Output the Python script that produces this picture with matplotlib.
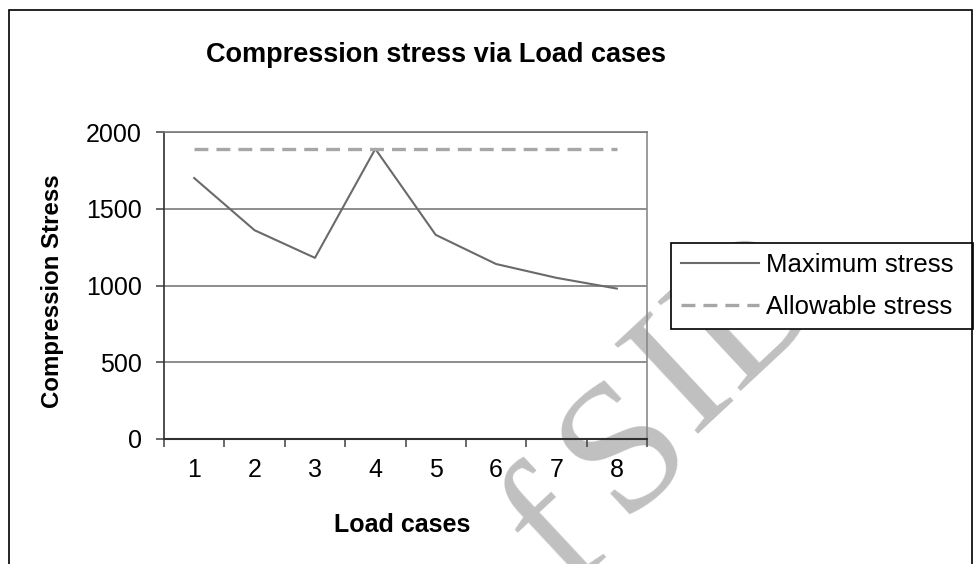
import numpy as np
import matplotlib
matplotlib.use("Agg")
import matplotlib.pyplot as plt
from matplotlib.patches import Rectangle

plt.rcParams['font.family'] = ['Liberation Sans', 'DejaVu Sans']
plt.rcParams['lines.scale_dashes'] = False

# ---- data ----
cases = [1, 2, 3, 4, 5, 6, 7, 8]
case_labels = ['1', '2', '3', '4', '5', '6', '7', '8']
max_stress = [1700, 1360, 1180, 1890, 1330, 1140, 1050, 980]
allowable_stress = [1890, 1890, 1890, 1890, 1890, 1890, 1890, 1890]
y_ticks = [0, 500, 1000, 1500, 2000]
watermark_letters = ['f', 'S', 'I', 'D']

W, H = 974, 564
fig = plt.figure(figsize=(W / 100, H / 100), dpi=100)

def fx(px):
    return px / W

def fy(py):
    return (H - py) / H

# watermark (behind everything), one letter at a time
wm_pos = [(557, 536), (627, 450), (683, 380), (754, 312)]
for ch, (px, py) in zip(watermark_letters, wm_pos):
    fig.text(fx(px), fy(py), ch, family=['Liberation Serif', 'DejaVu Serif'],
             fontsize=134, color='#c0c0c0', rotation=43,
             ha='center', va='center', zorder=0)

left, right, top, bottom = 164, 647, 132, 439
ax = fig.add_axes([fx(left), fy(bottom), fx(right - left), (bottom - top) / H])
ax.set_facecolor('none')
ax.set_zorder(1)

l1, = ax.plot(cases, max_stress, color='#6a6a6a', lw=1.5, zorder=3, label='Maximum stress')
l2, = ax.plot(cases, allowable_stress, color='#a6a6a6', lw=2.4, dashes=(10, 5.8), zorder=3,
              label='Allowable stress')

ax.set_xlim(0.5, 8.5)
ax.set_ylim(0, 2000)

ax.set_yticks(y_ticks)
ax.set_yticklabels([str(v) for v in y_ticks], fontsize=18)
ax.set_xticks(np.arange(0.5, 9, 1))
ax.set_xticklabels([])
ax.set_xticks(cases, minor=True)
ax.set_xticklabels(case_labels, minor=True, fontsize=18)

ax.tick_params(axis='y', which='major', direction='out', length=6, width=1.1,
               color='#404040', pad=10)
ax.tick_params(axis='x', which='major', direction='out', length=6, width=1.1,
               color='#404040')
ax.tick_params(axis='x', which='minor', length=0, pad=14)

for yv in y_ticks[1:]:
    ax.axhline(yv, color='#7a7a7a', lw=1.2, zorder=2)

ax.spines['left'].set_color('#303030')
ax.spines['bottom'].set_color('#303030')
ax.spines['left'].set_linewidth(1.2)
ax.spines['bottom'].set_linewidth(1.5)
ax.spines['top'].set_color('#7a7a7a')
ax.spines['right'].set_color('#8a8a8a')
ax.spines['top'].set_linewidth(1.2)
ax.spines['right'].set_linewidth(1.2)

fig.text(fx(435.5), fy(62), 'Compression stress via Load cases', fontsize=19.5,
         fontweight='bold', ha='center', va='baseline')
fig.text(fx(402), fy(532), 'Load cases', fontsize=18, fontweight='bold',
         ha='center', va='baseline')
fig.text(fx(53), fy(291), 'Compression Stress', fontsize=17.3, fontweight='bold',
         ha='center', va='center', rotation=90)

leg = fig.legend(handles=[l1, l2], loc='upper left', mode='expand',
                 bbox_to_anchor=(fx(671), fy(328), fx(973 - 671), (328 - 243) / H),
                 bbox_transform=fig.transFigure,
                 fontsize=18.5, frameon=True, fancybox=False, framealpha=1,
                 edgecolor='#000000', handlelength=3.03, handletextpad=0.27,
                 borderpad=0.38, borderaxespad=0, labelspacing=0.71)
leg.get_frame().set_linewidth(1.2)
leg.set_zorder(5)

fig.patches.append(Rectangle((fx(9), fy(700)), fx(972 - 9), (700 - 10) / H,
                             transform=fig.transFigure, fill=False,
                             edgecolor='#000000', lw=1.2, zorder=10))

fig.savefig('out.png', dpi=100)
